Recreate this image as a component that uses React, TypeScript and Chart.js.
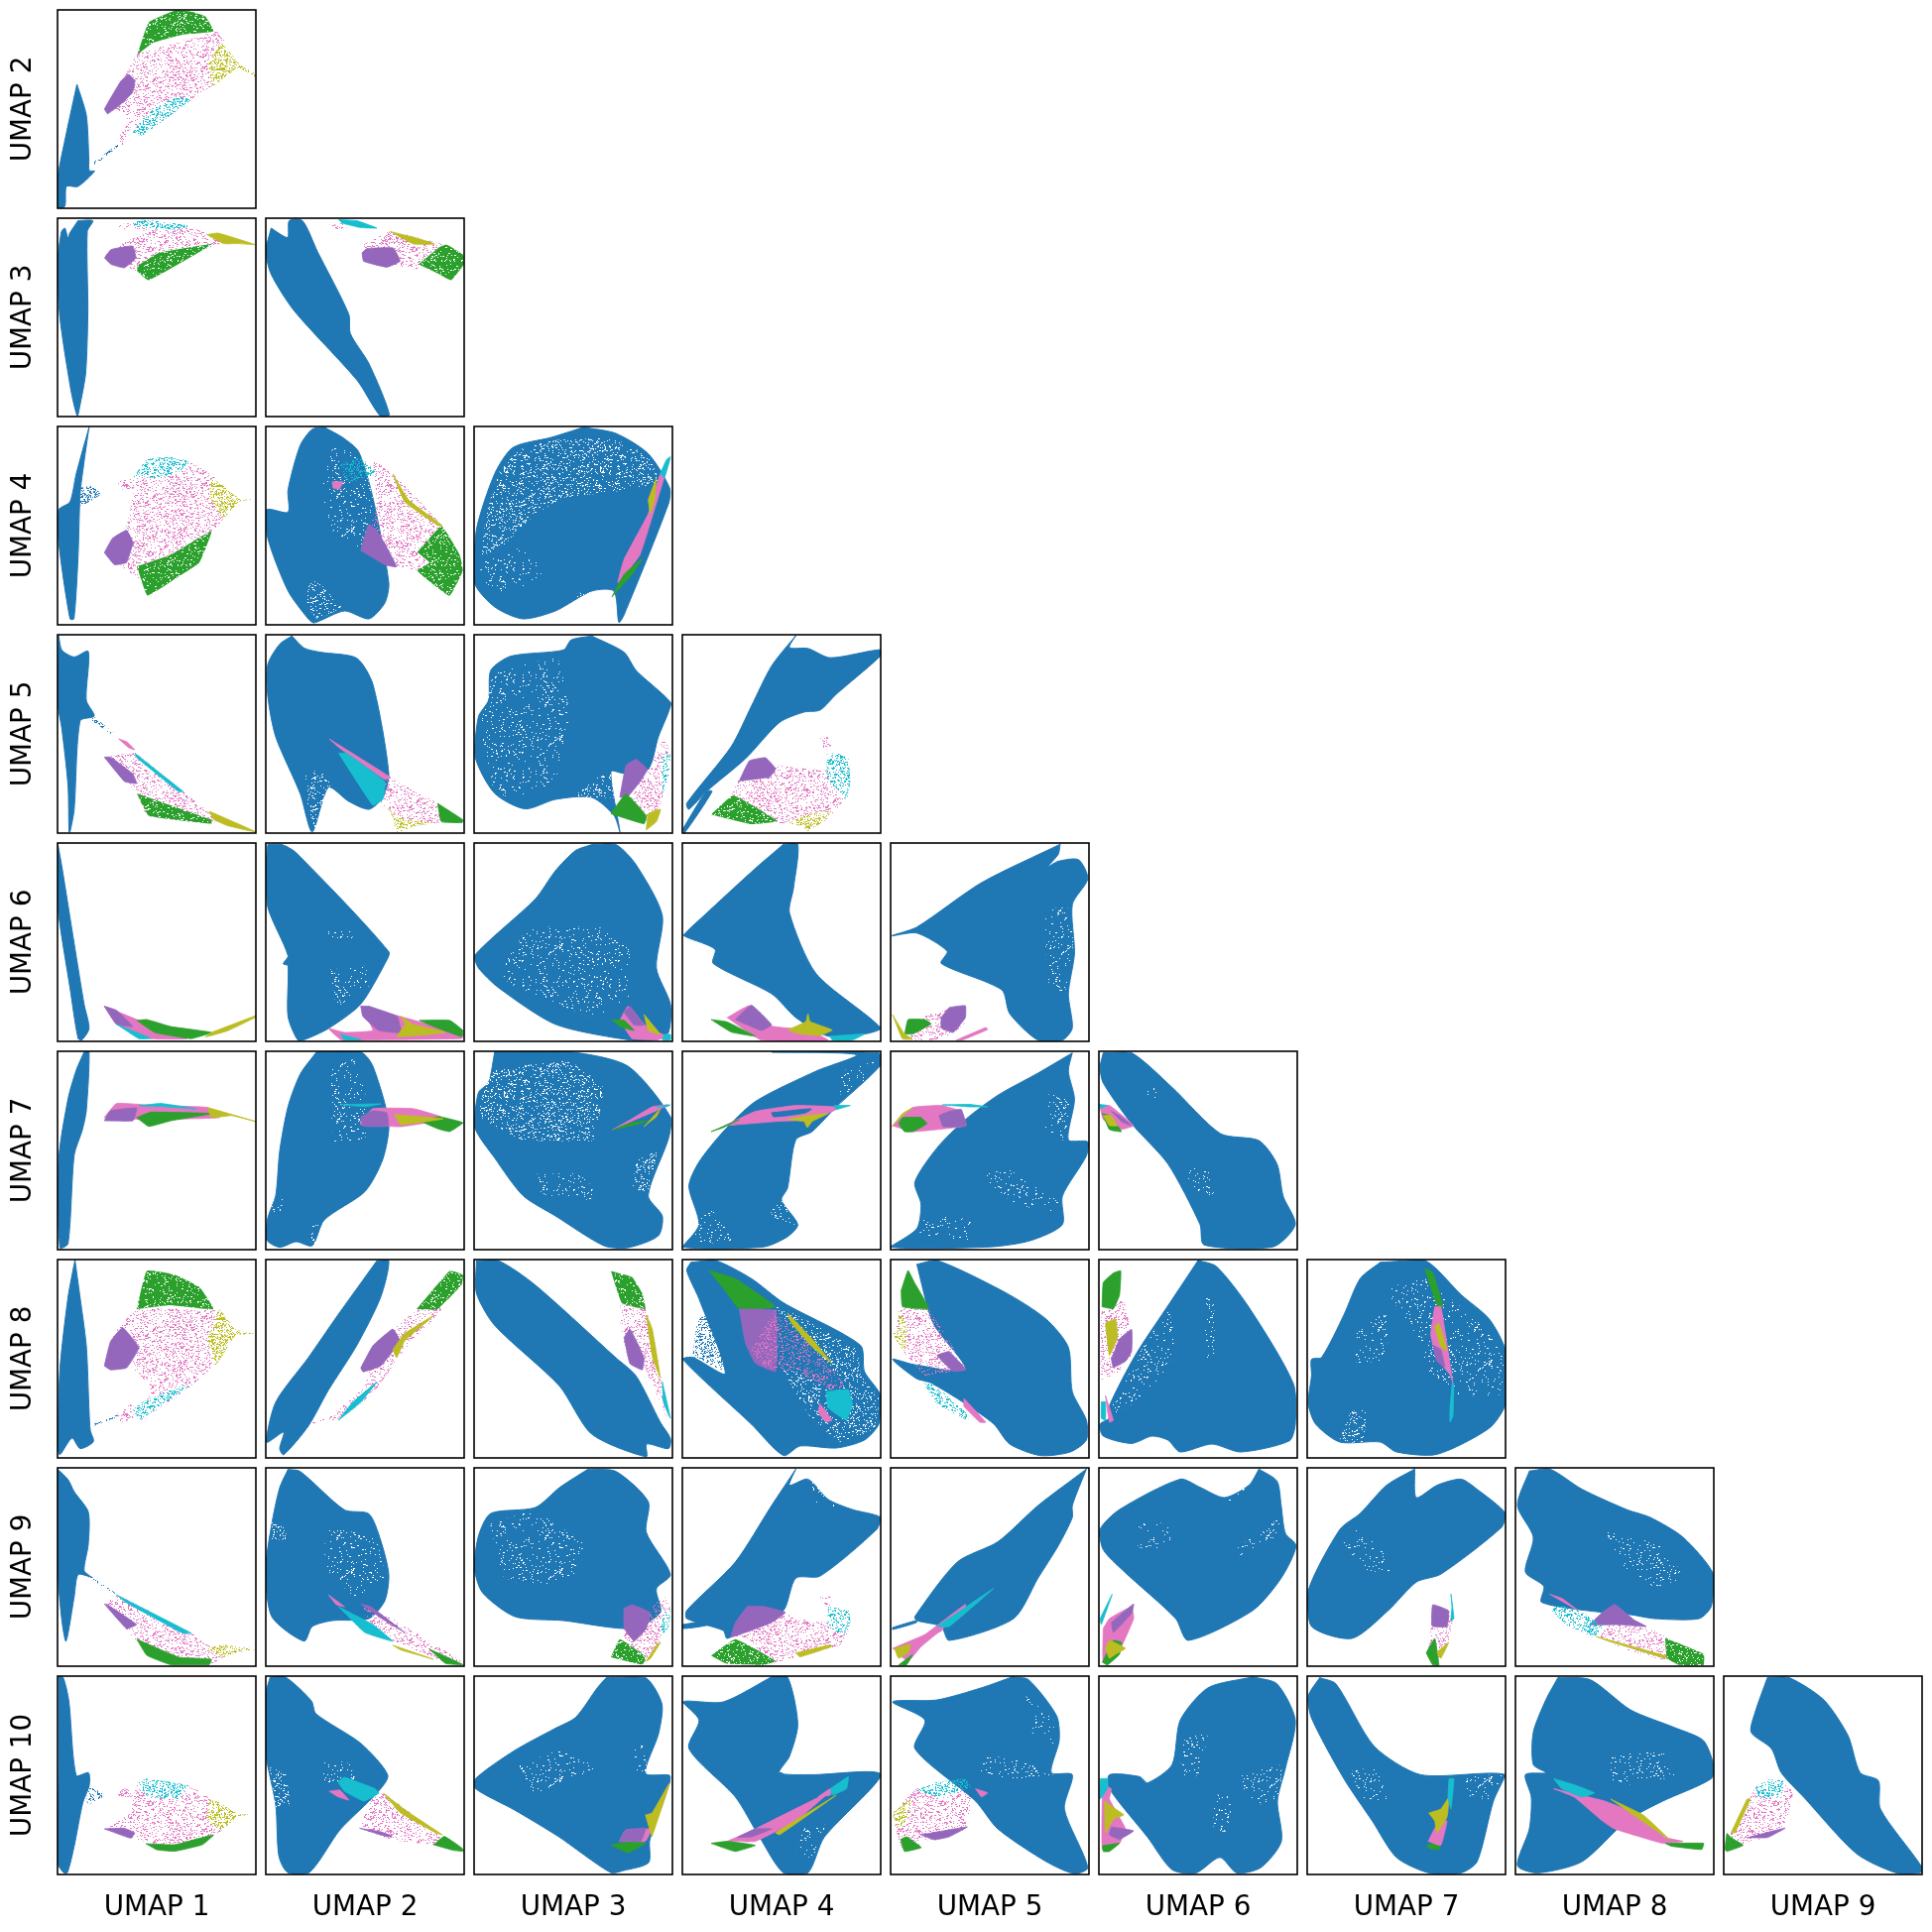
import React, { useEffect, useRef } from "react";
import { Chart, registerables } from "chart.js";

Chart.register(...registerables);

const rowLabels = ["UMAP 2", "UMAP 3", "UMAP 4", "UMAP 5", "UMAP 6", "UMAP 7", "UMAP 8", "UMAP 9", "UMAP 10"];
const colLabels = ["UMAP 1", "UMAP 2", "UMAP 3", "UMAP 4", "UMAP 5", "UMAP 6", "UMAP 7", "UMAP 8", "UMAP 9"];

// Outlines of the point clouds, each in normalised axis units (0-100, y measured from the top).
const y2x1_blue = [[9.8,37.5],[14.5,53],[15.8,75],[16,81],[18.7,81.3],[10.3,89],[4.5,89],[3.7,99],[0,99.7],[0,85],[4.5,62]];
const y2x1_tail = [[18,77],[30,68],[31,68.5],[19,78]];
const y2x1_pink = [[40,22],[80,11],[84,15],[78,38],[68,45],[43,63],[38,57],[33,68],[30,66],[36,56],[30,50],[25,52],[33,35]];
const y2x1_green = [[40.3,22.5],[46,6.3],[59.5,0.3],[68,1],[74.5,3.3],[78.7,10.8],[62.8,12.5],[47.8,16.7]];
const y2x1_purple = [[25.3,52.5],[23.7,50],[32,35.8],[36,32.5],[39,35.8],[37.8,41.7],[31,48.3]];
const y2x1_olive = [[83,16],[91.7,27.5],[99.5,32],[99.5,33.7],[91,29.2],[81,36.7],[78,38.5],[76,27.5]];
const y2x1_cyan = [[67.8,45],[42.8,63.3],[38,61.7],[48,50],[60,44]];

const y3x1_blue = [[10.3,1.3],[17.8,1.3],[15,6.7],[15.3,46.7],[14.2,78],[11.2,95],[10,99.7],[7,88],[1.2,50],[0,23],[2,6.7],[3.7,5],[5.3,10],[6.2,7.5]];
const y3x1_pink = [[30,3.3],[41,2],[68,4],[83,12.5],[78.7,14],[46,26.7],[40,27],[36,25],[25,21.7],[24.5,18],[34.5,11.7],[46.5,6.7],[36,5.8],[31,5.3]];
const y3x1_cyan = [[37,3.3],[41,0.7],[52.8,1.7],[68,4],[58,5.8],[44.5,5]];
const y3x1_purple = [[23.7,20],[27,15.8],[37.8,14],[39.5,20],[33.7,25],[27,23.3]];
const y3x1_green = [[40.3,24],[51,17.5],[77.8,13],[69.5,18.3],[46,31.3],[40.3,26.7]];
const y3x1_olive = [[75.3,8.3],[81,7.5],[99.5,13.3],[91,12.8],[83.7,12.8]];

const y3x2_blue = [[2.7,5],[11,9.7],[11.8,1.3],[18.5,1.3],[26,16.7],[41.8,48.3],[42.7,58.3],[52,73.3],[62.3,99],[57.7,99.7],[46,81.7],[14.3,46.7],[2.7,28.3],[0,16.7]];
const y3x2_pink = [[49.3,13.3],[62.7,6.7],[89,13.3],[79,23.3],[76,25.8],[66,24],[49,21.7]];
const y3x2_pink2 = [[32,3],[38,2.5],[41,5],[36,5.5]];
const y3x2_cyan = [[36.8,0.7],[46,1.3],[56,5],[47.7,4.7],[38.5,2.5]];
const y3x2_purple = [[48.5,17.5],[51,15.3],[64.3,15],[67.7,21.7],[61,24.7],[49.3,21.7]];
const y3x2_green = [[77,23.3],[87,15],[91,13.3],[99.3,18.3],[99.8,23.3],[93.5,31.3],[86,27.5]];
const y3x2_olive = [[62.7,6.7],[76,10],[85.2,13],[74.5,13]];

const y4x1_blue = [[15.9,0.4],[13.4,17.7],[11.4,34],[10.4,64.6],[8.3,97],[6.3,97],[0.6,58.4],[0.6,42],[6.3,38],[9.4,24]];
const y4x1_thin = [[11,31],[17,30],[22,34],[12,40]];
const y4x1_pink = [[40,24],[57,16],[67.4,18],[79.6,26],[83.7,46],[77.6,54],[63,70.6],[41,76.8],[24.6,62.5],[34.8,50]];
const y4x1_pink2 = [[30,28],[38,26],[39,31],[33,32]];
const y4x1_cyan = [[38,26],[45,16.7],[57,15.3],[66.4,17.7],[61.3,22.8],[51,26],[40,25]];
const y4x1_olive = [[77.6,26],[86.8,32],[91.8,36.5],[99.6,36.7],[91.8,37.7],[83.7,46],[76.6,36]];
const y4x1_purple = [[23.6,63.6],[27.7,56.4],[34.8,52.3],[38,58.5],[34.8,68.6],[28.7,69.7]];
const y4x1_green = [[40,70.5],[57.2,64.6],[77.6,52.7],[71.5,68.6],[59.3,76.8],[45.4,85.3]];

const y4x2_blue = [[29.5,0.4],[38.7,5.5],[46.8,12.7],[54,36],[62,78.8],[60,89],[52,97],[39.7,93],[24.4,99],[21.4,97],[11.2,82.9],[1,56.4],[0.4,42],[11.2,43.2],[11.2,32],[17.3,9.6],[23.4,1.4]];
const y4x2_sp1 = [[34,10],[47,14],[54,36],[50,62],[33,52],[28,30]];
const y4x2_sp2 = [[21,79],[26,78],[38,91],[26,97],[21,90]];
const y4x2_pink = [[54,16.7],[63.9,23.8],[88.6,50.3],[78.4,72.7],[61,68.6],[50,62.5],[55.9,38]];
const y4x2_olive = [[64,24],[72,37],[89,50],[87,50],[70,38]];
const y4x2_green = [[76.4,63.4],[88.6,50.3],[97.7,64.6],[99.3,72.7],[92.6,85.3],[76.4,72.7],[82.5,68.6]];
const y4x2_purple = [[47.9,62.5],[51.9,49.3],[57,54],[66,70.7],[60,69.7]];
const y4x2_cyan = [[36,19.8],[48,15.7],[56,23.8],[50,26],[41.8,27.9]];
const y4x2_pink2 = [[33.5,27.9],[39,28],[37,31.5],[34,31]];

const y4x3_blue = [[55.2,0.4],[71.5,3.5],[87.8,13.7],[98.6,31],[98,39],[75.6,95],[73,98.8],[70.5,83],[59.3,83],[41,93],[24.6,97],[10.4,91],[0.2,78.8],[1.2,52],[10.4,23.8],[19.6,10.6],[38.9,5.5]];
const y4x3_sp1 = [[6,45],[12,24],[22,12],[40,7],[70,6],[88,15],[93,28],[70,33],[45,36],[30,45],[15,60],[4,65]];
const y4x3_sp2 = [[52,84],[68,83],[70,91],[50,92]];
const y4x3_sp3 = [[3,70],[15,62],[28,62],[35,78],[18,85],[4,78]];
const y4x3_pink = [[98.6,16.7],[83.7,64.6],[72.5,78.8],[75.6,67],[87.8,44],[93.9,23.8]];
const y4x3_green = [[69.5,85.9],[75.6,74.6],[84.8,66.6],[79.6,74.6]];
const y4x3_olive = [[87.8,37],[91.9,26],[90.8,38],[88.8,44]];
const y4x3_cyan = [[97,16.7],[99,15.3],[96,25.8],[93.9,23.8]];

const y5x1_blue = [[0.6,0.6],[2.2,7.7],[8.4,11.2],[15.5,8.4],[14.5,33],[18.5,41],[11.4,43.4],[8.4,88],[6.3,99.4],[5.8,99.4],[5.3,76],[2.2,47.5],[0.2,35]];
const y5x1_tail = [[18,41],[29,50],[28,50.6],[17,43]];
const y5x1_pink = [[23.6,61.7],[39,59.7],[63.3,79],[81.7,94],[77.6,95],[45,91.2],[40,80]];
const y5x1_pink2 = [[30.8,52.5],[35,54],[39,58],[36,57]];
const y5x1_cyan = [[39,59.7],[63.3,79],[61,79],[40,62]];
const y5x1_purple = [[23.6,61.7],[26.7,61.7],[37.9,70],[39.9,75],[33.8,74]];
const y5x1_green = [[40,80],[77.6,93.3],[77.6,95.3],[46,91.2]];
const y5x1_olive = [[76.6,89],[100,99.4],[85.8,96.3],[78.6,93]];

const y5x2_blue = [[13.2,0.6],[19.3,6.7],[27.5,8.8],[45.8,11.8],[54,25],[62,70],[59,82],[52,88],[41.8,84],[31.6,77],[23.4,99.4],[17.3,80],[5,51.5],[1,31],[1,15],[7,4.7]];
const y5x2_sp1 = [[20,71],[27,68],[38,82],[30,82],[25,98],[21,85]];
const y5x2_pink = [[62,72],[86.6,85],[92.7,93],[84.5,95.3],[66,92.3],[56,82]];
const y5x2_pink2 = [[32,52.5],[63,72],[60,73],[37,57]];
const y5x2_cyan = [[36.7,59.7],[40.7,59.7],[60,74],[59,83],[54,86]];
const y5x2_green = [[86.6,85],[99.4,93.3],[99,94.7],[88.6,94.3]];
const y5x2_olive = [[60,85],[66,92],[85,95],[75,96.5],[66,99.5],[64,92]];

const y5x3_blue = [[59.3,0.6],[75.6,8.8],[81.7,18],[99,34],[98,39],[92.9,51.5],[87.8,67.8],[75.6,69.9],[69,69],[73.5,99.4],[70.5,91],[59.3,82],[41,83],[25.7,87.8],[10.4,80],[0.6,61.7],[2.2,41.3],[7.3,33],[8.4,18],[18.5,10.8],[45,7.7],[49,2.6]];
const y5x3_sp1 = [[3,45],[10,20],[42,12],[48,40],[42,70],[25,85],[10,78]];
const y5x3_sp2 = [[50,82],[62,72],[72,70],[72,82],[60,82]];
const y5x3_pink = [[74.5,82],[79.6,63.7],[87.8,67.8],[96,51.5],[99,61.7],[93.9,86],[85.7,94.3]];
const y5x3_purple = [[73.5,82],[76.6,65.8],[81.7,62.7],[87.4,67.8],[83.7,74],[77.6,81.5]];
const y5x3_green = [[69,90.2],[76.6,80.2],[86.8,91.2],[85.7,95.3]];
const y5x3_cyan = [[95,59.7],[99,60.7],[98,71.9],[95,80]];
const y5x3_olive = [[86.8,98.4],[87.8,90.2],[94,88],[91.9,94.3]];

const y5x4_blue = [[57.2,0.4],[54,6.5],[63.3,6.9],[74.5,11.6],[100,7.5],[100,10.6],[77.6,30],[69.4,38],[61.3,39],[49,44.2],[31.8,62.5],[12.4,78.8],[3.3,88],[2.2,85],[24.6,56.4],[34.8,36],[45,15.7]];
const y5x4_thin = [[0.2,98],[12,79],[15,79],[1,100]];
const y5x4_pink = [[24.6,80],[34.8,62.5],[47,65.6],[73.5,68.6],[83.7,72.7],[81.7,83],[71.5,94],[47,95]];
const y5x4_pink2 = [[69.5,52],[74,51.5],[75,56],[71,57]];
const y5x4_purple = [[28.7,73.7],[33.8,63.5],[42,62],[47,67.6],[44,71.7]];
const y5x4_green = [[14.5,90.6],[25.7,81],[48,94],[34.8,95.5]];
const y5x4_cyan = [[72.5,60.5],[77.6,59.5],[83.7,62.5],[84.7,73.7],[82.7,83],[73.5,72.7]];
const y5x4_olive = [[53,94.7],[65.4,90],[74.5,89],[71.5,94],[63.3,99],[61.3,97]];

const y6x1_blue = [[0.2,0.8],[2.2,12],[8.4,50.7],[13.4,81.3],[15.9,93.5],[12.4,99.2],[10.4,98.6],[6.3,73],[0.2,32.4]];
const y6x1_pink = [[23.6,82.3],[41,89.4],[65.4,98.6],[47,98.6],[29.7,91.4]];
const y6x1_purple = [[23.6,82.3],[29.7,84.3],[37.9,92.5],[29.7,91.4]];
const y6x1_green = [[40,89.4],[45,89],[57,92.5],[77.6,95.5],[67.4,98.6],[49,95.5]];
const y6x1_olive = [[77.6,95.5],[100,87],[100,87.8],[85.7,94.7],[74.5,97.8]];
const y6x1_cyan = [[30,91.5],[47,98.5],[41,98.6]];

const y6x2_blue = [[1,0.8],[8.1,0.8],[15.3,4.9],[62,54.8],[60,60.9],[47.8,81.3],[31.6,93.5],[19.3,99.2],[16,99.2],[11.2,87.4],[11.2,61.9],[8.8,60.9],[11.2,56.8],[1,32.4],[0,12]];
const y6x2_sp1 = [[30,44],[42,44],[44,48],[30,48]];
const y6x2_sp2 = [[32,64],[50,62],[52,72],[36,82]];
const y6x2_pink = [[47.9,82.3],[64,86.4],[99.7,96.5],[98.7,98.6],[54,99.2],[38,99.2],[31.6,93.5],[39.7,95.5],[54,94.5]];
const y6x2_purple = [[47.9,82.3],[52,82.3],[66.2,87.4],[68.2,95.5],[57,94.5],[48.9,87.4]];
const y6x2_green = [[77.4,89.4],[92.7,89.4],[99.4,94.5],[98.7,97.6],[84.5,92.5]];
const y6x2_olive = [[68.2,87.4],[74.3,91.4],[90.6,95.5],[66.2,97.6],[70.3,91.4]];
const y6x2_cyan = [[37.7,96.5],[48,99.2],[39.7,99.2]];

const y6x3_blue = [[59.3,0.8],[71.5,0.8],[81.7,11],[94.9,36.5],[91.9,63],[99,81.3],[98,95.5],[91.9,99.2],[77.6,99.2],[41,91.4],[12.4,73],[2.2,63],[0.2,56.8],[30.8,28.3],[41,14],[51,3.9]];
const y6x3_sp1 = [[12,66],[28,42],[45,44],[65,44],[80,55],[78,78],[60,88],[40,80],[20,72]];
const y6x3_sp2 = [[27,43],[45,42],[67,43],[50,48],[30,50]];
const y6x3_pink = [[73.5,89.4],[77.6,82.3],[87.8,93.5],[98,97.6],[91.9,99.2],[79.6,98.6]];
const y6x3_green = [[69.5,89],[75.6,89.4],[80.7,94.5],[73.5,92.5]];
const y6x3_olive = [[85.7,86.4],[93.9,96.5],[87.8,94.5]];
const y6x3_purple = [[75.6,85.3],[78.6,82.3],[85.7,91.8],[80.7,91.8]];
const y6x3_cyan = [[96,96.5],[99,96.5],[99,99.2],[95,99.2]];

const y6x4_blue = [[51,0.6],[58.2,0.6],[56,23],[54,35.2],[67.4,65.8],[100,93.3],[91.8,96.3],[73.5,97.4],[57.2,88],[45,76],[15.5,60.7],[16.5,53.6],[2.2,47.5],[0.6,46.4],[12.4,35.2],[36.8,12.8]];
const y6x4_pink = [[22.6,88],[33.8,82],[45,92.3],[63.3,94.3],[73.5,99.4],[39.9,99.4]];
const y6x4_purple = [[26.7,89],[34.8,81.7],[45,91.6],[39.9,94.5]];
const y6x4_green = [[14.5,89],[22.6,90.2],[36.8,97.4],[24.6,95.3]];
const y6x4_olive = [[53,94.3],[62.3,90],[63.3,86],[64.4,90],[75.6,94.3],[69.4,97],[59.3,96.3]];
const y6x4_cyan = [[74.5,97.4],[91.8,96.3],[85.7,99.4],[75.6,99.4]];

const y6x5_blue = [[85.5,0.6],[84.5,5.7],[79.4,11.8],[84.5,9.2],[94.7,8.4],[99.4,18],[91.6,31],[92.7,55.6],[89.6,76],[91.6,93.3],[86.6,99.4],[74.3,99.4],[60,86],[56,74],[25.5,60.7],[28.5,54.6],[13.2,45.4],[0.6,46.8],[13.2,42.4],[45.8,20]];
const y6x5_sp1 = [[78,33],[90,33],[92,50],[88,75],[80,72],[78,50]];
const y6x5_pink = [[9,97.4],[15.3,88],[37.7,82],[37.7,90.2],[31.6,96],[21.4,99.4],[11,99.4]];
const y6x5_purple = [[25.5,88],[29.5,83],[37.7,82],[37.7,88],[31.6,95.5],[25.5,93.3]];
const y6x5_green = [[7.1,96.3],[8.8,89],[17.3,89],[20.4,91.2],[11.2,96.3]];
const y6x5_olive = [[1,86.6],[7,96.3],[11,98.8],[6,98.8]];
const y6x5_trail = [[33,99.4],[48,93],[49,94],[36,99.4]];

const y7x1_blue = [[13.4,0.4],[15.9,0.4],[14.5,30],[12.4,40],[8.4,52.3],[5.3,97],[1.2,99],[0.6,54.4],[5.3,24],[9.4,9.6]];
const y7x1_pink = [[23.6,33.4],[29.7,26.3],[49,27.3],[75.6,28.3],[81.7,33.4],[43,34.4]];
const y7x1_cyan = [[41,27.5],[52,26.3],[70,29],[52,27.8]];
const y7x1_purple = [[23.6,35],[26.7,30],[39.9,28.6],[38,35]];
const y7x1_green = [[39.9,33.4],[47,30.7],[77.6,31.4],[57.2,35],[46,37.9]];
const y7x1_olive = [[75.6,28.3],[100,35.4],[87.8,32.4],[77.6,33.4]];

const y7x2_blue = [[25.5,0.4],[47.9,0.4],[54,7.5],[62,36],[59,54.4],[50,70.7],[29.5,85],[23.4,98],[15.3,96],[7,98.8],[0.4,95],[1,84],[5,72.7],[7,50.3],[11.2,27.9],[17.3,11.6]];
const y7x2_sp1 = [[33,8],[45,4],[50,20],[50,45],[34,45]];
const y7x2_sp2 = [[3,75],[9,73],[7,83],[3,84]];
const y7x2_sp3 = [[23,88],[33,85],[27,97],[23,97]];
const y7x2_pink = [[47.9,35],[54,28.9],[74.3,28.9],[88.4,33],[87,35],[68,38],[47.9,37]];
const y7x2_purple = [[47.9,33],[54,30],[61,31],[61.7,37.7],[48.9,37.7]];
const y7x2_green = [[77.4,35],[87.6,33],[99.4,36],[92.7,40.5],[86.6,39]];
const y7x2_olive = [[65,32],[89.4,34],[68,37]];
const y7x2_cyan = [[37.7,26.9],[58,26.5],[50,27.9]];

const y7x3_blue = [[10.4,0.4],[49,0.4],[77.6,7.5],[99,33],[98,44],[87.8,72.7],[94.9,83],[92.9,93],[77.6,99],[65.4,98],[41,83],[24.6,72.7],[10.4,53.8],[0.2,38],[2.2,20.8],[7.3,15.7]];
const y7x3_sp1 = [[2,30],[9,10],[48,5],[65,18],[60,45],[38,45],[25,45],[5,35]];
const y7x3_sp2 = [[27,62],[55,62],[62,75],[35,72]];
const y7x3_sp3 = [[82,55],[92,50],[88,72],[80,68]];
const y7x3_pink = [[69.5,39.7],[79.6,34],[89.8,28],[98,26.9],[91.9,30],[80,35]];
const y7x3_green = [[69.5,39.7],[79.6,36],[87.8,35],[81.7,37]];
const y7x3_olive = [[85.7,38],[93.9,29],[91.9,33],[88,36]];
const y7x3_cyan = [[91.9,28],[99,27],[97,28]];

const y7x4_blue = [[45,0.4],[99,0.8],[100,6.9],[77.6,28],[65.4,40.5],[57.2,44.6],[53,69],[50,75],[58.2,87.4],[53,93.5],[41,98.6],[0.2,98.6],[8.4,87.4],[3.3,68],[8.4,55.8],[20.6,40.5],[36.8,25.3],[67.4,10],[87.8,1.8]];
const y7x4_sp1 = [[3,90],[15,80],[25,95],[10,97]];
const y7x4_sp2 = [[42,75],[52,75],[57,87],[48,88]];
const y7x4_sp3 = [[80,10],[98,5],[90,18],[78,22]];
const y7x4_pink = [[21.4,37.5],[36.8,30.3],[57.2,27.3],[79.6,28.3],[65.4,34.4],[47,35.4]];
const y7x4_green = [[14.5,40.5],[28.7,34.4],[20.6,38.5]];
const y7x4_olive = [[53,34.4],[63.3,32.4],[73.5,31.4],[65.4,35.4],[63,38.5],[61.3,35.4]];
const y7x4_cyan = [[76.5,27.3],[84.7,27.3],[77.6,29.3]];
const y7x4_streak = [[45,31],[65,29],[62,31],[46,33]];

const y7x5_blue = [[91.6,0.8],[89.6,10],[92.7,24.2],[89.6,44.6],[99.4,45.6],[98.7,52.7],[86.6,73],[86.6,87.4],[70.3,95.5],[50,98.6],[0,98.6],[13.2,89.4],[15.3,77],[12.2,66],[23.4,48.7],[37.7,34.4],[54,22.2],[74.3,11]];
const y7x5_sp1 = [[45,62],[60,60],[85,75],[80,82],[60,75]];
const y7x5_sp2 = [[15,82],[40,85],[40,95],[15,92]];
const y7x5_sp3 = [[80,20],[90,25],[88,45],[78,40]];
const y7x5_pink = [[1,37.5],[11.2,28.3],[25.5,27.3],[35.6,30.3],[38,37.5],[11.2,40.5]];
const y7x5_purple = [[24.4,32.4],[29.5,30.3],[35.6,29.3],[38,37.5],[26.5,38]];
const y7x5_green = [[4,36.5],[6,33.4],[15.3,33.4],[18.3,36.5],[11.2,40.5],[7,40.5]];
const y7x5_olive = [[0.6,38],[6,31.4],[11,28.5],[5,33.4]];
const y7x5_cyan = [[26,27],[40,26.8],[49,28],[40,28]];

const y7x6_blue = [[2.2,0.8],[16.5,0.8],[36.7,18],[61.3,41.5],[80.7,45],[89.8,56.8],[92.9,73],[99,87.4],[87.8,98.6],[53,97.6],[51,87.4],[34.8,56.8],[16.5,36.5],[2.2,16],[0.6,8]];
const y7x6_sp1 = [[42,57],[55,60],[58,73],[48,70]];
const y7x6_sp2 = [[20,15],[30,18],[30,24],[22,22]];
const y7x6_pink = [[0.6,28.3],[5.3,27.3],[17.5,37.5],[10.4,39.5],[2.2,34.4]];
const y7x6_green = [[1.8,31.4],[5.3,32.4],[11.4,40.5],[5.3,39.5]];
const y7x6_olive = [[2.2,32.4],[6,32.4],[9.4,37.5],[5.3,37.5]];
const y7x6_purple = [[6.3,30.3],[10.4,32.4],[16.5,37.5],[11.4,35.4]];
const y7x6_cyan = [[0.2,26.7],[4.3,27.3],[0.6,28.7]];

const y8x1_blue = [[8.8,0.2],[10.8,15],[14.5,43.4],[15.9,76],[16.5,86],[18.1,91.8],[11.4,95.3],[7.3,90],[1.2,98.4],[0.2,95.3],[1.2,55.6],[5.3,19]];
const y8x1_tail = [[18,83],[31,78],[31,79],[18,84]];
const y8x1_pink = [[23.6,52.5],[28.7,37.3],[39.9,25],[77.6,25],[83.7,27],[79.6,52.5],[67.4,63.7],[41.8,81],[47,63.7],[34.8,53.6]];
const y8x1_pink2 = [[30,78],[38,72],[38,80],[32,82]];
const y8x1_green = [[39.9,25],[45,5.7],[59.3,7.7],[71.5,13.8],[78.6,25],[57,23]];
const y8x1_purple = [[23.6,53.6],[26.7,41.3],[32.8,34.2],[41,44.4],[34.8,54.6],[26.7,55.6]];
const y8x1_olive = [[81.7,25],[89.8,35.2],[100,37.5],[100,38],[89.8,38],[79.6,53.6],[75.6,39.9]];
const y8x1_cyan = [[41.8,81],[67.4,62.7],[57,65.8],[43,71.9],[37.9,76]];

const y8x2_blue = [[56,0.6],[62,0.6],[57.9,19],[45.8,43.4],[31.6,65.8],[21.4,84],[9,98.4],[7,95.3],[9,87],[0.4,92],[5,71.9],[21.4,49.5],[35.6,29]];
const y8x2_pink = [[47.9,53.6],[66,33.2],[85,20],[90,24],[70,45.4],[53.8,67.8],[37.7,80],[21.4,83],[33.6,78],[49.9,63.7],[52,55.6]];
const y8x2_purple = [[47.9,54.6],[54,43.4],[64,35],[67.6,41],[58,53.6],[49,56.6]];
const y8x2_green = [[76,25],[92.7,5.7],[99.4,7.7],[98.7,12.8],[86.6,25]];
const y8x2_olive = [[64,45.4],[70,37.3],[85,28],[70,41],[66,49.5]];
const y8x2_cyan = [[36.7,81],[43.8,71.9],[56,61.7],[47.9,71.9]];

const y8x3_blue = [[1.2,0.6],[12.4,0.6],[30.8,12.8],[71.5,49.5],[81.7,58.7],[93.9,82],[99,90.2],[98,95.3],[87,93],[86.8,99.4],[59.3,88],[43,63.7],[10.4,33.2],[1.2,17]];
const y8x3_green = [[69,5.7],[79.6,8.8],[84.8,17],[86.4,25],[74.6,22]];
const y8x3_pink = [[73.7,22.6],[86.4,24.6],[89.8,35.2],[98,82],[94,72],[85.7,54],[77.6,50],[73.7,31]];
const y8x3_purple = [[75.6,39.3],[78.6,35],[85.7,49.5],[84.8,55.6],[78.6,52.5]];
const y8x3_olive = [[86.8,28],[89.8,35],[93.9,59.7],[90,49.5]];
const y8x3_cyan = [[94.9,61.7],[99,80],[95.5,72]];

const y8x4_blue = [[4.3,1.4],[16.5,0.4],[34.8,9.6],[51,21.8],[89.8,43.2],[91.8,56.4],[100,68.6],[99,83],[91.8,91],[77.6,95],[59.3,94],[51,98.8],[34.8,83],[0.2,50.3],[5.3,49.3],[21.6,57.4],[8.4,19.8],[2.2,5.5]];
const y8x4_thin = [[5,49],[8,30],[14,28],[22,56]];
const y8x4_sp1 = [[52,25],[88,45],[90,58],[99,70],[97,85],[80,92],[65,80],[50,55],[35,35],[40,22]];
const y8x4_green = [[13.4,5.5],[26.7,9.6],[47,23.8],[28.7,24.8],[21.6,15.7]];
const y8x4_purple = [[28.7,25],[47,25.9],[47,56.4],[36.8,52.3],[31.8,42]];
const y8x4_pink = [[47,25],[63.3,42],[81.7,62.5],[77.6,66.6],[57.2,56.4],[42,54.4],[34.8,46]];
const y8x4_olive = [[53,26.9],[65.4,40],[75.5,52.3],[65.4,44],[55,32]];
const y8x4_cyan = [[72.5,66.6],[83.7,65.6],[85.7,73],[82.7,80.9],[73.5,74.7]];
const y8x4_pink2 = [[69.4,72.7],[75.5,81],[72.5,81.9],[68.4,76.8]];

const y8x5_blue = [[13.2,2.4],[23.4,0.4],[58,16.7],[78.4,30],[89.6,44.2],[91.6,66.6],[98.7,81],[98.7,91],[90.6,97],[75.4,98.8],[60,93],[52,82.9],[37.7,72.7],[20,62],[13,60],[1,50.3],[12,53],[37.7,55.4],[21.4,32]];
const y8x5_pink = [[5,23.8],[18.3,23.8],[38,55.4],[31.6,56.4],[17.3,58.4],[5,44.2],[3,34]];
const y8x5_green = [[5.3,15.7],[8.8,5.5],[12,11.6],[19.3,24.8],[6,23.8]];
const y8x5_olive = [[1,37],[4,36],[4,25.9],[8.2,33],[7,46.2],[3,41]];
const y8x5_cyan = [[16.3,61.5],[21.4,62.5],[39.7,78.8],[38.7,80.9],[23.4,72.7]];
const y8x5_purple = [[29.5,46.2],[38,55.4],[31.6,56.4],[23.4,48.3]];
const y8x5_pink2 = [[37,70],[48,82],[45,82],[37,74]];

const y8x6_blue = [[50,0.4],[59.3,3.5],[75.6,24],[98,62.5],[99,83],[96,91.4],[71.5,97],[57,93],[40.9,97],[34.8,91],[26.7,89],[16.5,92.7],[2.2,89],[0.6,83],[5.3,79.8],[5.3,73.7],[18.5,48],[35.8,21.8]];
const y8x6_sp1 = [[6,75],[20,48],[35,25],[38,40],[35,55],[20,70],[10,78]];
const y8x6_sp2 = [[53,18],[58,20],[58,50],[54,50]];
const y8x6_pink = [[1.2,23.8],[12.4,20.8],[17.5,46.2],[10.4,56.4],[1.2,60.5]];
const y8x6_green = [[1.6,23.8],[2.2,11.6],[7.3,6.8],[11,5.7],[10.4,17.9],[7.3,24.8]];
const y8x6_purple = [[6.3,50.3],[10.4,40],[16.5,35.2],[16.5,46.2],[13.4,51.3],[7.3,54.4]];
const y8x6_olive = [[3.3,32],[8.4,30],[9.4,39],[5.3,48.3]];
const y8x6_cyan = [[1.2,71.7],[3.3,71.7],[3.3,81],[1.2,80]];
const y8x6_pink2 = [[3.3,68.6],[7.3,81],[5.3,82]];

const y8x7_blue = [[36.8,1.4],[59.3,0.4],[77.6,17.7],[91.8,30],[100,46],[100,72.7],[91.8,85],[65.4,98.2],[45,97],[36.8,92],[16.5,92],[4.3,83],[0.6,72.7],[2.2,58.4],[2.2,50.3],[7.3,49.3],[18.5,27.9],[26.7,9.6]];
const y8x7_sp1 = [[58,42],[40,15],[60,10],[90,35],[99,50],[98,68],[75,68],[60,55]];
const y8x7_sp2 = [[25,32],[40,28],[40,50],[25,52]];
const y8x7_sp3 = [[16,92],[22,77],[30,75],[28,92]];
const y8x7_green = [[59.3,4.5],[63.3,6.5],[68.4,23.8],[65.4,22.8]];
const y8x7_pink = [[64.3,23.8],[67.4,23.8],[73.5,62.5],[72,58],[65.4,50],[62.3,38]];
const y8x7_olive = [[64.3,34],[66.4,32],[70.5,46],[67.4,44]];
const y8x7_purple = [[63.3,43],[67.4,45.5],[69.4,54.4],[65.4,51.3]];
const y8x7_cyan = [[73.1,62.5],[73.9,62.5],[73.5,79],[72,82],[72,74.7]];

const y9x1_blue = [[0.2,0.8],[5.3,5.9],[8.4,12],[15.5,22.2],[15.5,38.5],[13.4,51.7],[16.5,54.8],[10.4,53.8],[8.4,65],[4.3,87.4],[2.2,77],[0.2,52.7]];
const y9x1_tail = [[16,54],[29,63],[28.5,63.6],[15.5,55]];
const y9x1_pink = [[23.6,68.6],[29.7,64],[67.4,83.3],[83.7,95.5],[77.6,98.6],[45,91.4],[40,87.4]];
const y9x1_cyan = [[29.7,64],[67.4,83.3],[63,83.3],[34.8,68]];
const y9x1_purple = [[23.6,68.6],[26.7,70],[39.9,79],[34.8,81]];
const y9x1_green = [[40,86.4],[61.3,95.5],[77.6,96.5],[76.5,99.2],[57,99.2],[45,94.5]];
const y9x1_olive = [[75.6,91.4],[81.7,89],[100,91.4],[88.8,93.5],[83.7,95.5]];

const y9x2_blue = [[11.2,0.8],[17.3,1.8],[39.7,21.2],[52,23.2],[57.9,36.5],[62,53.8],[60,67],[52,76],[33.6,77],[23.4,80],[19.3,87.4],[3,75],[0,50.7],[3,28.3],[7,10]];
const y9x2_sp1 = [[2,27],[9,30],[11,36],[3,36]];
const y9x2_sp2 = [[30,30],[55,35],[60,55],[45,65],[30,50]];
const y9x2_pink = [[47.9,69],[62,75],[98.7,97.6],[94,99.2],[74,91.4],[56,83]];
const y9x2_pink2 = [[31.6,64],[39.7,70],[35.6,69]];
const y9x2_purple = [[47.9,68.6],[53,70],[70,83],[60,77]];
const y9x2_cyan = [[36.7,70],[54,79],[64,87.4],[49.9,83],[39.7,73]];
const y9x2_green = [[82.5,91.4],[99.4,99.2],[90.6,98.6]];
const y9x2_olive = [[64,89.4],[84.5,96.5],[68,91.8]];

const y9x3_blue = [[57.2,0.8],[71.5,1.8],[87.8,17],[86.8,32.4],[99,53.8],[91.9,61],[93.9,73],[79.6,81],[45,77],[20.6,75],[4.3,63],[0.2,50.7],[2.2,34.4],[8.4,23],[30.8,20],[43,10]];
const y9x3_sp1 = [[8,28],[30,22],[55,38],[50,55],[30,60],[15,55]];
const y9x3_pink = [[74.5,86.4],[77.6,77],[85.7,73],[96,65],[99,71],[93.9,87.4],[86.8,97.6],[75.6,91.4]];
const y9x3_purple = [[75.6,81],[75.6,71],[79.6,69],[88.8,73],[86.8,81],[80.7,87.4]];
const y9x3_green = [[69,95.5],[73.5,86.4],[86.8,95.5],[84.8,99.2]];
const y9x3_cyan = [[94.9,75],[99,71],[98,81],[93.9,84.3]];
const y9x3_olive = [[86.8,97.6],[91.9,89.4],[94,88],[89,96]];

const y9x4_blue = [[57.2,0.6],[54,8.8],[63.3,5.7],[73.5,15.9],[85.7,21],[100,25],[98,31],[69.4,54.6],[57.2,55.6],[51,71.9],[38,78],[22.6,86],[20.6,82],[2.2,76],[2.2,71.9],[26.7,47.5],[45,19]];
const y9x4_thin = [[0.2,79],[14.5,77],[14,79],[0.2,81]];
const y9x4_sp1 = [[63,5],[75,12],[80,20],[68,18]];
const y9x4_pink = [[23.6,85.3],[51,72.9],[57,76],[73.5,78],[83.7,82],[79.6,89.2],[65.4,93.3],[45,98.4],[32.8,86]];
const y9x4_purple = [[26.7,78],[32.8,69.9],[41,69.9],[52,72.9],[45,78],[24.6,85.3]];
const y9x4_green = [[14.5,94.7],[26.7,86.4],[47,97.4],[40.9,99.4],[22.6,98.8]];
const y9x4_cyan = [[73.5,69.9],[83.7,71.9],[84.7,78],[81.7,84],[73.5,80]];
const y9x4_olive = [[57.2,93.3],[74.5,89.2],[75.5,90],[59.3,95.3]];
const y9x4_pink2 = [[69.4,64.8],[74.5,64.8],[75.5,69],[71.5,69.9]];

const y9x5_blue = [[98.7,0.6],[91.6,19],[91.6,25],[84.5,39.3],[74.3,55.6],[62,76],[29.5,87],[25.5,80],[13.2,77],[12.2,75],[33.6,47.5],[54,37.3],[74.3,19]];
const y9x5_thin = [[1,80.5],[13,77],[13,78],[1,81.5]];
const y9x5_pink = [[4,94.3],[37.7,68.8],[37.7,71.5],[15.3,90.2],[9,97.4]];
const y9x5_cyan = [[23.4,80],[52,60.7],[29.5,80]];
const y9x5_olive = [[2,91],[10,89],[9,93],[4,96]];
const y9x5_green = [[4,99.4],[11,94.3],[8,99.4]];
const y9x5_pink2 = [[1,91],[25,81],[26,82],[5,93]];

const y9x6_blue = [[80.7,0.6],[89.8,6.7],[91.9,19],[94,33],[99.4,39.3],[91.9,55.6],[77.6,71.9],[45,87],[38.7,76],[12.4,52],[2.2,41.3],[0.6,31],[10.4,21],[41,5.7],[51,9.8],[63.2,15],[75.6,8.8]];
const y9x6_sp1 = [[55,9],[75,10],[65,18]];
const y9x6_sp2 = [[70,40],[92,25],[90,35],[72,45]];
const y9x6_sp3 = [[20,28],[35,28],[36,40],[20,40]];
const y9x6_pink = [[2.2,81],[5.3,76],[16.5,70],[17.5,76],[10.4,92],[2.2,98]];
const y9x6_purple = [[6.3,78],[17.5,68.6],[16.5,73.3],[7.3,83]];
const y9x6_green = [[1.8,98],[7.3,87],[11.4,88],[10.4,94],[4.3,99.4]];
const y9x6_olive = [[3.3,91],[5.3,87],[13.4,91],[8.4,94],[5.3,96]];
const y9x6_cyan = [[0.6,76],[6.7,63.7],[1.2,79]];

const y9x7_blue = [[54.2,0.6],[55,15],[65.4,8.8],[77.6,5.7],[85.7,10.8],[100,23],[98,30],[67.4,53.6],[55,57.6],[40.9,71.9],[22.6,86],[2.2,80],[0.6,61.7],[16.5,31],[26.7,23],[40,8.8]];
const y9x7_sp1 = [[17,31],[28,30],[40,45],[42,52],[30,52],[18,38]];
const y9x7_pink = [[62.3,81],[63.3,70],[71.3,72],[73.5,76],[70.5,90],[65.4,99.4],[61,93.3]];
const y9x7_purple = [[62.7,76],[63.3,69],[71.3,72],[70.5,80],[63.3,80]];
const y9x7_green = [[60,93.3],[64.3,86],[66.4,99.4],[63.3,99.4]];
const y9x7_olive = [[65.4,93],[71.3,88],[67.4,96]];
const y9x7_cyan = [[72.5,63.7],[74,76],[72.5,77],[73,70]];

const y9x8_blue = [[7,1.6],[17.3,0.6],[33.6,10.8],[56,21],[68,25],[84.5,35],[99.8,53.6],[98.7,69.9],[92.6,76],[70,76],[58,74],[43.8,72.9],[13.2,67.8],[14.3,59.7],[5,52.5],[9,35],[1,19]];
const y9x8_sp1 = [[45,32],[72,38],[85,55],[70,60],[55,50]];
const y9x8_pink = [[41.8,85],[48,79],[66,80],[76.4,85.8],[76.4,97],[54,91]];
const y9x8_pink2 = [[17.3,63.7],[23.4,65.8],[31.6,71.9]];
const y9x8_purple = [[43.8,72.9],[50,68.8],[60,76.8],[66,80],[52,79],[37.7,79]];
const y9x8_cyan = [[18.3,71.9],[21.4,68.8],[33.6,72.9],[43.8,80],[39.7,85],[25.5,79]];
const y9x8_olive = [[40.7,85],[76.4,95],[75.5,96],[45.8,87]];
const y9x8_green = [[75.5,85.8],[94.9,93.9],[94.9,99.4],[82.5,99.4],[76.4,96]];

const y10x1_blue = [[0.7,0.3],[2.9,0.8],[5.7,12.5],[9.4,50],[15.6,48.7],[16,55],[12.7,64],[8.4,85.8],[5,99],[3,99],[0,94],[0.7,42.5]];
const y10x1_thin = [[15,55],[24,60],[15,65]];
const y10x1_pink = [[23.7,77],[37,69],[38,62],[41,53],[65.5,55],[78.7,62.5],[83,77.5],[74.3,82.5],[52.3,85],[37,81.7]];
const y10x1_pink2 = [[30,57.5],[35.8,56.7],[38,60.8],[31,60.8]];
const y10x1_cyan = [[40,54],[44.6,51.7],[65.5,55],[61,61.7],[45.7,60.8]];
const y10x1_olive = [[76.5,62.5],[81,63.3],[90.8,69.5],[99.6,69.5],[90.8,70.8],[83,77.5],[75.4,72.5]];
const y10x1_purple = [[23.7,77],[33.6,76.7],[39,79],[37,81.7]];
const y10x1_green = [[44.6,84.5],[59,85],[78.7,80],[73,85],[59,88.3],[50,87.5]];

const y10x2_blue = [[2.2,0.5],[9.9,0.5],[23,12.5],[25.3,19],[48,34],[61.5,50],[56,59],[37.4,77.5],[22,99],[11,99],[6.6,90.8],[5,65],[0,39],[0,9]];
const y10x2_sp1 = [[2,46],[10,49],[12,65],[5,66]];
const y10x2_sp2 = [[28,42],[42,44],[45,52],[30,55]];
const y10x2_pink = [[47.3,76.7],[52.7,62.5],[59.3,59],[87.9,80.8],[85.7,85],[63.7,82.5]];
const y10x2_cyan = [[36.3,53.3],[39.6,51],[55,56.7],[57,59],[49.5,63],[39.6,58]];
const y10x2_pink2 = [[31.9,58],[37.4,57.5],[41.8,62.5],[36.3,60.8]];
const y10x2_olive = [[59.3,59],[70.3,67.5],[89,80],[85.7,79],[68,69]];
const y10x2_green = [[84.6,85],[90,80.8],[98.9,86.7],[99.6,88.3],[94.5,87.8]];
const y10x2_purple = [[47.3,76.7],[57.1,78.3],[63.7,80.5],[61.5,81]];

const y10x3_blue = [[66.6,0.8],[86.4,0.8],[94.7,14],[93,29],[86.4,49],[98.5,50],[98.5,54],[88.6,82.5],[88,94],[75.4,98],[68.8,99],[42.4,80.8],[20.4,67.5],[0.7,56.7],[0.7,51.7],[20.4,37.5],[40.2,26.7],[51.2,20.8],[62.2,5.8]];
const y10x3_sp1 = [[22,45],[45,37],[62,47],[40,55],[30,60]];
const y10x3_sp2 = [[80,35],[86,35],[87,50],[82,48]];
const y10x3_pink = [[73.2,83.3],[76.5,77.5],[88.6,76.7],[98.5,54],[95,65],[86.4,83.3]];
const y10x3_purple = [[73.2,83.3],[76.5,77.5],[86.4,76.7],[84,83.3]];
const y10x3_green = [[68.8,85],[77.6,83.8],[86.4,84.2],[77.6,89]];
const y10x3_olive = [[86.4,70],[89.7,69],[98.5,54],[89.7,80.8],[88.6,77.5]];

const y10x4_blue = [[45,0.4],[53,0.4],[58.2,24.2],[54,40.5],[49,48.7],[65.4,49.7],[100,49.7],[71.5,81.3],[63.3,99.2],[51,99.2],[39,81.3],[26.7,60.9],[3.3,36.5],[8.4,22.2],[0.2,13],[20.6,13]];
const y10x4_sp1 = [[60,77],[72,75],[66,92],[58,88]];
const y10x4_thin = [[38,48],[50,48],[52,54],[42,54]];
const y10x4_pink = [[22.6,83.3],[36.8,77],[73.5,58.9],[57.2,73],[36.8,83.3]];
const y10x4_green = [[14.5,84.3],[22.6,83.3],[36.8,85.3],[26.7,88.4]];
const y10x4_purple = [[27.7,81.3],[36.8,77],[45,77],[35,81]];
const y10x4_cyan = [[74.5,56.8],[83.7,50.7],[82.7,56.8],[75.5,60]];
const y10x4_olive = [[47,79],[77.6,60],[49,80]];
const y10x4_pink2 = [[68.4,60.9],[74.5,56.8],[74.5,60]];

const y10x5_blue = [[61.3,0.4],[69.5,1.8],[83.7,20],[85,32.4],[81,48.7],[91.6,49.7],[87.6,67],[99.4,96.5],[92.7,99.6],[78.4,93.5],[54,77],[42.8,63],[12.2,36.5],[17.3,22.2],[1,13],[23.4,12],[45.8,5.9]];
const y10x5_sp1 = [[68,10],[82,22],[82,35],[72,30]];
const y10x5_sp2 = [[45,40],[65,42],[82,50],[60,52],[45,48]];
const y10x5_pink = [[1,69],[13.2,56.8],[29.5,54.8],[40.7,60.9],[37.7,77],[21.4,82.3],[6,87.4],[3,79]];
const y10x5_cyan = [[13.2,57.8],[21.4,53.8],[37.7,51.7],[40.7,55.8],[25.5,60.9]];
const y10x5_pink2 = [[42.8,56.8],[48.9,58.9],[45.8,60.9]];
const y10x5_olive = [[1,69],[10.2,62],[7,75],[4,77]];
const y10x5_purple = [[15.3,80],[38.7,76],[29.5,81],[22,82.5]];
const y10x5_green = [[5,82.3],[8,81],[15.5,86.4],[7,88.4]];

const y10x6_blue = [[77.6,0.4],[89.8,3.9],[99,22.2],[94,46.6],[90,63],[92,83.3],[81.7,96.5],[69.5,99.2],[61,91.4],[49,99.2],[36.9,97.6],[24.6,81.3],[5.3,56.8],[5.3,49.7],[20.6,50.7],[24.6,53.8],[36.9,44.6],[41,22.2],[55,5.9]];
const y10x6_sp1 = [[41,33],[55,28],[50,50],[42,50]];
const y10x6_sp2 = [[58,60],[66,60],[66,78],[58,78]];
const y10x6_sp3 = [[72,50],[92,45],[90,63],[75,65]];
const y10x6_pink = [[1.8,54.8],[6.3,56.8],[5.3,62],[13.4,77],[10.4,84.3],[1.8,87.4]];
const y10x6_cyan = [[0.6,51.7],[4.3,51.7],[4.3,56.8],[0.6,62]];
const y10x6_olive = [[2.9,63],[8.4,67],[12.6,70],[7.5,72],[3.3,79]];
const y10x6_purple = [[6.3,76],[17.5,78],[10.4,82.3],[5.3,80]];
const y10x6_green = [[1.8,85.5],[10.4,84.3],[5.3,88.4],[2.2,88.4]];

const y10x7_blue = [[6.3,0.8],[14.5,3.9],[33.8,35.4],[57.2,49.7],[100,49.7],[93.9,63],[85.7,93.5],[77.6,99.2],[61.3,99.2],[45,91.4],[32.8,73],[18.5,51.7],[2.2,21.2],[0.6,10]];
const y10x7_sp1 = [[22,48],[35,46],[40,62],[28,62]];
const y10x7_sp2 = [[80,50],[98,50],[92,62],[80,60]];
const y10x7_green = [[60,85.3],[67.4,83.3],[66.4,87.4],[62,87]];
const y10x7_pink = [[61,83.3],[66.4,73],[70.5,73],[67.4,85.3]];
const y10x7_olive = [[61.3,69],[67.4,67],[71.5,61],[70.5,71],[65.4,79],[64.3,73]];
const y10x7_cyan = [[71.5,51.7],[74,51.7],[72.5,67],[71,61]];

const y10x8_blue = [[21.4,0.8],[37.7,1.8],[58,17],[80.4,26],[94.7,32.4],[99.8,44.6],[98.7,51.7],[74.3,63],[56,73],[33.6,93.5],[11.2,99.2],[1,95.5],[7,77],[8,61],[5,49.7],[15.3,48.7],[9,44.6],[9,28.3],[15.3,12]];
const y10x8_sp1 = [[48,40],[75,38],[80,50],[60,55],[48,52]];
const y10x8_pink = [[19.3,56.8],[45,63],[64.4,71],[75.5,81.3],[84.5,83.3],[74.3,84.3],[49.9,77],[43.8,73],[29.7,61]];
const y10x8_cyan = [[19.3,51.7],[29.7,54.8],[39.9,58.9],[33.6,61],[23.4,56.8]];
const y10x8_olive = [[48,62],[64.4,70],[77.6,82.3],[62.3,72]];
const y10x8_green = [[75.5,84.3],[94.9,84.3],[93.9,87.4],[78.4,85.7]];

const y10x9_blue = [[22,0.8],[33,0.8],[50.5,12],[62.7,30],[68.8,48.7],[78,52.7],[79,67],[99.4,95.5],[99.4,99],[87,99.2],[66.8,89.4],[40.3,61],[29,48.7],[24,36.5],[13.8,28.3],[15.9,18]];
const y10x9_pink = [[1.6,83.3],[15.9,56.8],[30,52.7],[35,58.9],[30,77],[9.8,85.3]];
const y10x9_cyan = [[15.9,55.8],[23,52.3],[30,52.7],[29,61],[18,61]];
const y10x9_olive = [[3.7,79],[11.8,62],[13.4,62],[5.7,79]];
const y10x9_purple = [[11.8,81.4],[31,76.6],[22,81.4]];
const y10x9_green = [[0.6,87.4],[1.6,79.3],[3.7,81.4],[9.8,85.3],[1.6,88.4]];

// Mark lists per panel: [style key, outline], drawn in order.
const panelMarks: Record<string, [string, number[][]][]> = {
  "0,0": [["b",y2x1_blue],["B",y2x1_tail],["p",y2x1_pink],["g",y2x1_green],["u",y2x1_purple],["o",y2x1_olive],["c",y2x1_cyan]],
  "1,0": [["b",y3x1_blue],["p",y3x1_pink],["c",y3x1_cyan],["u",y3x1_purple],["g",y3x1_green],["O",y3x1_olive]],
  "1,1": [["b",y3x2_blue],["p",y3x2_pink],["p",y3x2_pink2],["C",y3x2_cyan],["u",y3x2_purple],["g",y3x2_green],["O",y3x2_olive]],
  "2,0": [["b",y4x1_blue],["B",y4x1_thin],["p",y4x1_pink],["p",y4x1_pink2],["c",y4x1_cyan],["o",y4x1_olive],["u",y4x1_purple],["g",y4x1_green]],
  "2,1": [["b",y4x2_blue],["w",y4x2_sp1],["W",y4x2_sp2],["p",y4x2_pink],["O",y4x2_olive],["g",y4x2_green],["u",y4x2_purple],["c",y4x2_cyan],["P",y4x2_pink2]],
  "2,2": [["b",y4x3_blue],["W",y4x3_sp1],["w",y4x3_sp3],["W",y4x3_sp2],["P",y4x3_pink],["G",y4x3_green],["O",y4x3_olive],["C",y4x3_cyan]],
  "3,0": [["b",y5x1_blue],["B",y5x1_tail],["p",y5x1_pink],["P",y5x1_pink2],["C",y5x1_cyan],["u",y5x1_purple],["g",y5x1_green],["O",y5x1_olive]],
  "3,1": [["b",y5x2_blue],["W",y5x2_sp1],["p",y5x2_pink],["P",y5x2_pink2],["C",y5x2_cyan],["G",y5x2_green],["o",y5x2_olive]],
  "3,2": [["b",y5x3_blue],["w",y5x3_sp1],["W",y5x3_sp2],["p",y5x3_pink],["u",y5x3_purple],["G",y5x3_green],["c",y5x3_cyan],["O",y5x3_olive]],
  "3,3": [["b",y5x4_blue],["b",y5x4_thin],["p",y5x4_pink],["p",y5x4_pink2],["u",y5x4_purple],["g",y5x4_green],["c",y5x4_cyan],["o",y5x4_olive]],
  "4,0": [["b",y6x1_blue],["P",y6x1_pink],["u",y6x1_purple],["G",y6x1_green],["O",y6x1_olive],["C",y6x1_cyan]],
  "4,1": [["b",y6x2_blue],["w",y6x2_sp1],["w",y6x2_sp2],["P",y6x2_pink],["u",y6x2_purple],["G",y6x2_green],["O",y6x2_olive],["C",y6x2_cyan]],
  "4,2": [["b",y6x3_blue],["w",y6x3_sp1],["w",y6x3_sp2],["P",y6x3_pink],["G",y6x3_green],["O",y6x3_olive],["u",y6x3_purple],["C",y6x3_cyan]],
  "4,3": [["b",y6x4_blue],["P",y6x4_pink],["u",y6x4_purple],["G",y6x4_green],["O",y6x4_olive],["C",y6x4_cyan]],
  "4,4": [["b",y6x5_blue],["w",y6x5_sp1],["p",y6x5_pink],["u",y6x5_purple],["G",y6x5_green],["O",y6x5_olive],["P",y6x5_trail]],
  "5,0": [["b",y7x1_blue],["P",y7x1_pink],["C",y7x1_cyan],["u",y7x1_purple],["G",y7x1_green],["O",y7x1_olive]],
  "5,1": [["b",y7x2_blue],["w",y7x2_sp1],["w",y7x2_sp2],["w",y7x2_sp3],["P",y7x2_pink],["u",y7x2_purple],["G",y7x2_green],["O",y7x2_olive],["C",y7x2_cyan]],
  "5,2": [["b",y7x3_blue],["W",y7x3_sp1],["w",y7x3_sp2],["W",y7x3_sp3],["P",y7x3_pink],["G",y7x3_green],["O",y7x3_olive],["C",y7x3_cyan]],
  "5,3": [["b",y7x4_blue],["w",y7x4_sp1],["w",y7x4_sp2],["w",y7x4_sp3],["P",y7x4_pink],["b",y7x4_streak],["G",y7x4_green],["O",y7x4_olive],["C",y7x4_cyan]],
  "5,4": [["b",y7x5_blue],["w",y7x5_sp1],["w",y7x5_sp2],["w",y7x5_sp3],["P",y7x5_pink],["u",y7x5_purple],["G",y7x5_green],["O",y7x5_olive],["C",y7x5_cyan]],
  "5,5": [["b",y7x6_blue],["w",y7x6_sp1],["w",y7x6_sp2],["P",y7x6_pink],["G",y7x6_green],["O",y7x6_olive],["u",y7x6_purple],["C",y7x6_cyan]],
  "6,0": [["b",y8x1_blue],["B",y8x1_tail],["p",y8x1_pink],["p",y8x1_pink2],["g",y8x1_green],["u",y8x1_purple],["o",y8x1_olive],["c",y8x1_cyan]],
  "6,1": [["b",y8x2_blue],["p",y8x2_pink],["u",y8x2_purple],["g",y8x2_green],["O",y8x2_olive],["C",y8x2_cyan]],
  "6,2": [["b",y8x3_blue],["g",y8x3_green],["p",y8x3_pink],["u",y8x3_purple],["O",y8x3_olive],["C",y8x3_cyan]],
  "6,3": [["b",y8x4_blue],["B",y8x4_thin],["W",y8x4_sp1],["G",y8x4_green],["u",y8x4_purple],["p",y8x4_pink],["O",y8x4_olive],["C",y8x4_cyan],["P",y8x4_pink2]],
  "6,4": [["b",y8x5_blue],["p",y8x5_pink],["G",y8x5_green],["o",y8x5_olive],["c",y8x5_cyan],["u",y8x5_purple],["P",y8x5_pink2]],
  "6,5": [["b",y8x6_blue],["w",y8x6_sp1],["w",y8x6_sp2],["p",y8x6_pink],["G",y8x6_green],["u",y8x6_purple],["O",y8x6_olive],["C",y8x6_cyan],["P",y8x6_pink2]],
  "6,6": [["b",y8x7_blue],["w",y8x7_sp1],["w",y8x7_sp2],["W",y8x7_sp3],["G",y8x7_green],["P",y8x7_pink],["O",y8x7_olive],["u",y8x7_purple],["C",y8x7_cyan]],
  "7,0": [["b",y9x1_blue],["B",y9x1_tail],["p",y9x1_pink],["C",y9x1_cyan],["u",y9x1_purple],["G",y9x1_green],["o",y9x1_olive]],
  "7,1": [["b",y9x2_blue],["W",y9x2_sp1],["w",y9x2_sp2],["p",y9x2_pink],["P",y9x2_pink2],["u",y9x2_purple],["C",y9x2_cyan],["G",y9x2_green],["O",y9x2_olive]],
  "7,2": [["b",y9x3_blue],["w",y9x3_sp1],["p",y9x3_pink],["u",y9x3_purple],["g",y9x3_green],["c",y9x3_cyan],["O",y9x3_olive]],
  "7,3": [["b",y9x4_blue],["b",y9x4_thin],["w",y9x4_sp1],["p",y9x4_pink],["u",y9x4_purple],["g",y9x4_green],["c",y9x4_cyan],["O",y9x4_olive],["p",y9x4_pink2]],
  "7,4": [["b",y9x5_blue],["b",y9x5_thin],["P",y9x5_pink],["C",y9x5_cyan],["P",y9x5_pink2],["O",y9x5_olive],["G",y9x5_green]],
  "7,5": [["b",y9x6_blue],["w",y9x6_sp1],["w",y9x6_sp2],["w",y9x6_sp3],["P",y9x6_pink],["u",y9x6_purple],["G",y9x6_green],["O",y9x6_olive],["C",y9x6_cyan]],
  "7,6": [["b",y9x7_blue],["w",y9x7_sp1],["p",y9x7_pink],["u",y9x7_purple],["G",y9x7_green],["O",y9x7_olive],["C",y9x7_cyan]],
  "7,7": [["b",y9x8_blue],["w",y9x8_sp1],["p",y9x8_pink],["P",y9x8_pink2],["u",y9x8_purple],["c",y9x8_cyan],["O",y9x8_olive],["g",y9x8_green]],
  "8,0": [["b",y10x1_blue],["B",y10x1_thin],["p",y10x1_pink],["p",y10x1_pink2],["c",y10x1_cyan],["o",y10x1_olive],["u",y10x1_purple],["G",y10x1_green]],
  "8,1": [["b",y10x2_blue],["W",y10x2_sp1],["w",y10x2_sp2],["p",y10x2_pink],["C",y10x2_cyan],["P",y10x2_pink2],["O",y10x2_olive],["G",y10x2_green],["u",y10x2_purple]],
  "8,2": [["b",y10x3_blue],["w",y10x3_sp1],["w",y10x3_sp2],["P",y10x3_pink],["u",y10x3_purple],["G",y10x3_green],["O",y10x3_olive]],
  "8,3": [["b",y10x4_blue],["w",y10x4_sp1],["B",y10x4_thin],["P",y10x4_pink],["G",y10x4_green],["u",y10x4_purple],["C",y10x4_cyan],["O",y10x4_olive],["P",y10x4_pink2]],
  "8,4": [["b",y10x5_blue],["w",y10x5_sp1],["w",y10x5_sp2],["p",y10x5_pink],["c",y10x5_cyan],["P",y10x5_pink2],["o",y10x5_olive],["u",y10x5_purple],["G",y10x5_green]],
  "8,5": [["b",y10x6_blue],["w",y10x6_sp1],["w",y10x6_sp2],["w",y10x6_sp3],["P",y10x6_pink],["C",y10x6_cyan],["O",y10x6_olive],["u",y10x6_purple],["G",y10x6_green]],
  "8,6": [["b",y10x7_blue],["w",y10x7_sp1],["w",y10x7_sp2],["G",y10x7_green],["P",y10x7_pink],["O",y10x7_olive],["C",y10x7_cyan]],
  "8,7": [["b",y10x8_blue],["w",y10x8_sp1],["P",y10x8_pink],["C",y10x8_cyan],["O",y10x8_olive],["G",y10x8_green]],
  "8,8": [["b",y10x9_blue],["p",y10x9_pink],["c",y10x9_cyan],["O",y10x9_olive],["u",y10x9_purple],["G",y10x9_green]],
};

const BLUE = "#1f77b4", GREEN = "#2ca02c", PURPLE = "#9467bd", PINK = "#e377c2", OLIVE = "#bcbd22", CYAN = "#17becf";
const STYLES: Record<string, { color: string; dots?: number; ground?: string; line?: number }> = {
  b: { color: BLUE, line: 1 },
  B: { color: BLUE, dots: 0.3 },
  w: { color: "#ffffff", dots: 0.05 },
  W: { color: "#ffffff", dots: 0.12 },
  p: { color: PINK, dots: 0.2 },
  P: { color: PINK, line: 0.8 },
  u: { color: PURPLE, line: 0.8 },
  g: { color: "#ffffff", dots: 0.1, ground: GREEN },
  G: { color: GREEN, line: 0.8 },
  c: { color: CYAN, dots: 0.34 },
  C: { color: CYAN, line: 0.8 },
  o: { color: OLIVE, dots: 0.38 },
  O: { color: OLIVE, line: 0.8 },
};

const patternCache: Record<string, CanvasPattern | string> = {};
function fillFor(key: string, ctx: CanvasRenderingContext2D) {
  if (patternCache[key]) return patternCache[key];
  const s = STYLES[key];
  if (!s.dots) return (patternCache[key] = s.color);
  const size = 97;
  const tile = document.createElement("canvas");
  tile.width = size;
  tile.height = size;
  const t = tile.getContext("2d")!;
  if (s.ground) {
    t.fillStyle = s.ground;
    t.fillRect(0, 0, size, size);
  }
  t.fillStyle = s.color;
  const n = Math.round(size * size * s.dots);
  // fixed texture tile: a plain xorshift walk, used for the fill pattern only
  let h = 2463534242;
  const step = () => {
    h ^= h << 13;
    h ^= h >>> 17;
    h ^= h << 5;
    h >>>= 0;
    return h;
  };
  for (let i = 0; i < n; i++) {
    t.fillRect(step() % size, step() % size, i % 5 === 0 ? 2 : 1, 1);
  }
  return (patternCache[key] = ctx.createPattern(tile, "repeat")!);
}

const framePlugin = {
  id: "frame",
  afterDraw(chart: Chart) {
    const { ctx, chartArea: a } = chart;
    ctx.save();
    ctx.strokeStyle = "#000";
    ctx.lineWidth = 1.6;
    ctx.strokeRect(a.left, a.top, a.right - a.left, a.bottom - a.top);
    ctx.restore();
  },
};

const LEFT = 58, TOP = 10, SIZE = 200, PITCH = 210, EDGE = 2, XROOM = 50;
const titleFont = { family: "DejaVu Sans", size: 27.8 };

function Panel({ row, col }: { row: number; col: number }) {
  const ref = useRef<HTMLCanvasElement>(null);
  const ml = col === 0 ? LEFT : EDGE;
  const mb = row === 8 ? XROOM : EDGE;
  const width = ml + SIZE + EDGE;
  const height = EDGE + SIZE + mb;
  useEffect(() => {
    const canvas = ref.current!;
    const ctx = canvas.getContext("2d")!;
    const marks = panelMarks[`${row},${col}`];
    const chart = new Chart(canvas, {
      type: "scatter",
      data: {
        datasets: marks.map(([key, pts], i) => {
          const s = STYLES[key];
          return {
            label: `${rowLabels[row]} / ${colLabels[col]} ${key}${i}`,
            data: [...pts, pts[0]].map(([x, y]) => ({ x, y })),
            showLine: true,
            fill: "shape",
            tension: key === "b" ? 0.25 : 0.1,
            backgroundColor: fillFor(key, ctx),
            borderColor: s.line ? s.color : "rgba(0,0,0,0)",
            borderWidth: s.line ?? 0,
            pointRadius: 0,
            pointHoverRadius: 0,
            order: marks.length - i,
          };
        }),
      } as any,
      options: {
        responsive: false,
        animation: false,
        devicePixelRatio: 1,
        events: [],
        layout: { padding: { left: col === 0 ? 0 : EDGE, right: EDGE, top: EDGE, bottom: row === 8 ? 0 : EDGE } },
        plugins: { legend: { display: false }, tooltip: { enabled: false } },
        scales: {
          x: {
            type: "linear",
            min: 0,
            max: 100,
            display: row === 8,
            grid: { display: false },
            border: { display: false },
            ticks: { display: false },
            title: { display: row === 8, text: colLabels[col], color: "#000", font: titleFont, padding: 0 },
            afterFit: (s: any) => { s.height = row === 8 ? XROOM : 0; },
          },
          y: {
            type: "linear",
            min: 0,
            max: 100,
            reverse: true,
            display: col === 0,
            grid: { display: false },
            border: { display: false },
            ticks: { display: false },
            title: { display: col === 0, text: rowLabels[row], color: "#000", font: titleFont, padding: { top: 7, bottom: 0 } },
            afterFit: (s: any) => { s.width = col === 0 ? LEFT : 0; },
          },
        },
      } as any,
      plugins: [framePlugin],
    });
    return () => chart.destroy();
  }, [row, col]);
  return (
    <canvas
      ref={ref}
      width={width}
      height={height}
      style={{ position: "absolute", left: LEFT + PITCH * col - ml, top: TOP + PITCH * row - EDGE, width, height }}
    />
  );
}

export default function App() {
  const cells: React.ReactNode[] = [];
  for (let r = 0; r < rowLabels.length; r++) {
    for (let c = 0; c <= r; c++) cells.push(<Panel key={`${r}-${c}`} row={r} col={c} />);
  }
  return (
    <div style={{ position: "absolute", left: 0, top: 0, width: 1948, height: 1948, background: "#fff", overflow: "hidden" }}>
      {cells}
    </div>
  );
}
